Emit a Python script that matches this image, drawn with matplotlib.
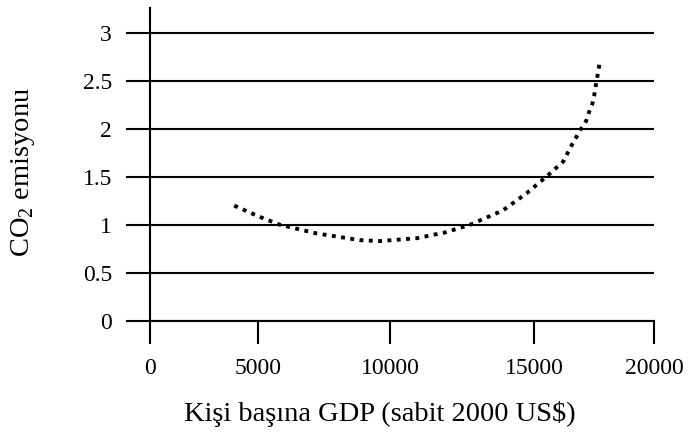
import numpy as np
import matplotlib
matplotlib.use("Agg")
import matplotlib.pyplot as plt

# values
gdp = [3900, 5000, 5830, 7220, 8860, 9620, 10930, 11910, 12780, 13920, 14750,
       15600, 16220, 16570, 16960, 17170, 17300, 17430, 17510, 17580, 17650, 17710, 17750]
co2 = [1.20, 1.09, 1.00, 0.91, 0.84, 0.83, 0.86, 0.92, 1.00, 1.15, 1.33,
       1.52, 1.66, 1.83, 2.00, 2.08, 2.18, 2.26, 2.35, 2.46, 2.56, 2.65, 2.72]

x_ticks = [0, 5000, 10000, 15000, 20000]
y_ticks = [0, 0.5, 1, 1.5, 2, 2.5, 3]
y_tick_labels = ["0", "0.5", "1", "1.5", "2", "2.5", "3"]

# the original axis has uneven tick spacing, reproduce it with a scale
tick_pos = [0, 108, 240, 384, 504]

plt.rcParams['font.family'] = ['Liberation Serif', 'DejaVu Serif']
plt.rcParams['mathtext.fontset'] = 'custom'
plt.rcParams['mathtext.rm'] = 'Liberation Serif'

fig = plt.figure(figsize=(6.92, 4.38), dpi=100)
ax = fig.add_axes([150 / 692, 117.3 / 438, 504 / 692, 312.7 / 438])

ax.set_xscale('function', functions=(lambda v: np.interp(v, x_ticks, tick_pos),
                                     lambda p: np.interp(p, tick_pos, x_ticks)))

for yv in y_ticks:
    ax.axhline(yv, color='black', lw=1.5, zorder=1)

ax.plot(gdp, co2, color='black', lw=2.8, linestyle=(0, (1.0, 1.4)),
        dash_capstyle='butt', solid_joinstyle='round', zorder=3)

ax.set_xlim(0, 20000)
ax.set_ylim(0, 3.26)
ax.set_xticks(x_ticks)
ax.set_xticklabels([str(t) for t in x_ticks])
ax.set_yticks(y_ticks)
ax.set_yticklabels(y_tick_labels)
ax.minorticks_off()

for s in ['top', 'right']:
    ax.spines[s].set_visible(False)
ax.spines['left'].set_linewidth(1.5)
ax.spines['bottom'].set_linewidth(1.5)

ax.tick_params(axis='x', direction='out', length=16.5, width=1.5, pad=10.5, labelsize=17)
ax.tick_params(axis='y', direction='out', length=17.3, width=1.5, pad=10, labelsize=17)

ax.set_xlabel('Kişi başına GDP (sabit 2000 US$)', fontsize=20.5)
ax.set_ylabel(r'CO$_\mathrm{2}$ emisyonu', fontsize=20.5)
ax.xaxis.set_label_coords(0.456, -0.258)
ax.yaxis.set_label_coords(-0.225, 0.474)

fig.savefig('out.png', dpi=100)
